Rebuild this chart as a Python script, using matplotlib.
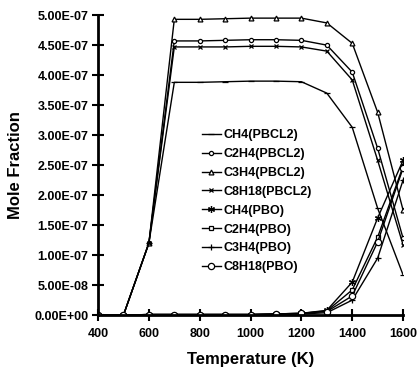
import matplotlib
matplotlib.use("Agg")
import matplotlib.pyplot as plt
import numpy as np

plt.rcParams['font.family'] = ['Liberation Sans', 'DejaVu Sans']
plt.rcParams['font.weight'] = 'bold'

temps = [400, 500, 600, 700, 800, 900, 1000, 1100, 1200, 1300, 1400, 1500, 1600]

# mole fractions, x1e-7
ch4_pbcl2 = [0, 0, 1.2, 3.88, 3.88, 3.89, 3.90, 3.90, 3.89, 3.70, 3.13, 1.78, 0.67]
c2h4_pbcl2 = [0, 0, 1.2, 4.57, 4.57, 4.58, 4.59, 4.59, 4.58, 4.50, 4.05, 2.78, 1.28]
c3h4_pbcl2 = [0, 0, 1.2, 4.93, 4.93, 4.94, 4.95, 4.95, 4.95, 4.87, 4.53, 3.38, 1.75]
c8h18_pbcl2 = [0, 0, 1.2, 4.47, 4.47, 4.47, 4.48, 4.48, 4.47, 4.40, 3.92, 2.58, 1.17]
ch4_pbo = [0, 0, 0.01, 0.01, 0.01, 0.01, 0.01, 0.02, 0.03, 0.08, 0.55, 1.62, 2.58]
c2h4_pbo = [0, 0, 0.01, 0.01, 0.01, 0.01, 0.01, 0.02, 0.03, 0.07, 0.42, 1.30, 2.48]
c3h4_pbo = [0, 0, 0.01, 0.01, 0.01, 0.01, 0.01, 0.01, 0.02, 0.04, 0.25, 0.95, 2.25]
c8h18_pbo = [0, 0, 0.01, 0.01, 0.01, 0.01, 0.01, 0.02, 0.03, 0.06, 0.32, 1.22, 2.45]

series = [
    ("CH4(PBCL2)", ch4_pbcl2, '_', 4),
    ("C2H4(PBCL2)", c2h4_pbcl2, 'o', 3),
    ("C3H4(PBCL2)", c3h4_pbcl2, '^', 3.5),
    ("C8H18(PBCL2)", c8h18_pbcl2, 'x', 3.5),
    ("CH4(PBO)", ch4_pbo, (6, 2, 0), 5),
    ("C2H4(PBO)", c2h4_pbo, 's', 3.5),
    ("C3H4(PBO)", c3h4_pbo, '+', 5),
    ("C8H18(PBO)", c8h18_pbo, 'o', 4.5),
]

fig = plt.figure(figsize=(4.19, 3.69), dpi=100)
ax = fig.add_axes([0.234, 0.146, 0.728, 0.813])

for name, vals, mk, ms in series:
    ax.plot(temps, np.array(vals) * 1e-7, color='black', lw=1.0, marker=mk,
            markersize=ms, markerfacecolor='white', markeredgecolor='black',
            markeredgewidth=0.9, label=name)

ax.set_xlim(400, 1600)
ax.set_ylim(0, 5e-7)
ax.set_xticks(range(400, 1601, 200))
yt = np.arange(0, 5.01e-7, 0.5e-7)
ax.set_yticks(yt)
ax.set_yticklabels(["%.2E" % v for v in yt])
ax.tick_params(direction='inout', length=8, width=1.5, labelsize=9)
ax.tick_params(axis='y', pad=3)
ax.tick_params(axis='x', pad=5)
for lab in ax.get_xticklabels() + ax.get_yticklabels():
    lab.set_fontweight('bold')
for s in ['top', 'right']:
    ax.spines[s].set_visible(False)
for s in ['left', 'bottom']:
    ax.spines[s].set_linewidth(2)

ax.set_xlabel('Temperature (K)', fontsize=12, fontweight='bold', labelpad=9)
ax.set_ylabel('Mole Fraction', fontsize=12, fontweight='bold', labelpad=8)

leg = ax.legend(loc='upper left', bbox_to_anchor=(0.34, 0.62), frameon=False,
                fontsize=9, handlelength=1.5, handletextpad=0.2, labelspacing=0.55,
                borderpad=0, borderaxespad=0)
for t in leg.get_texts():
    t.set_fontweight('bold')

fig.savefig('out.png', dpi=100)
